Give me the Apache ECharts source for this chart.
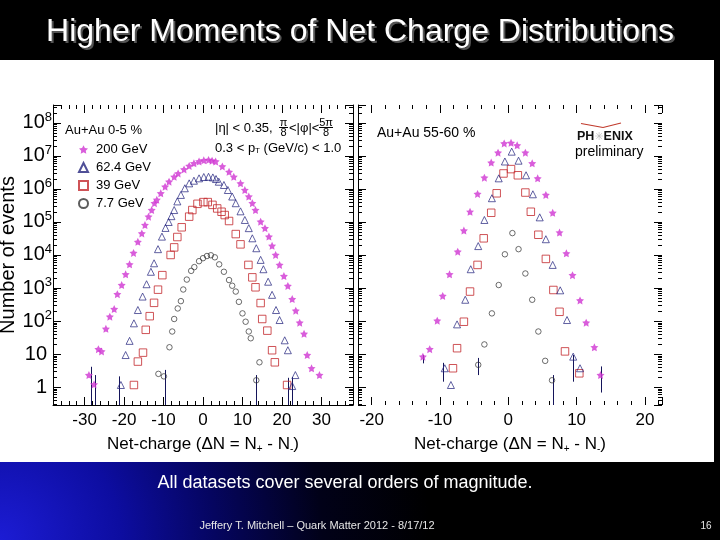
<!DOCTYPE html>
<html>
<head>
<meta charset="utf-8">
<title>Higher Moments of Net Charge Distributions</title>
<script src="https://cdn.jsdelivr.net/npm/echarts@6/dist/echarts.min.js"></script>
<style>
  html, body { margin: 0; padding: 0; background: #000; }
  #stage {
    position: relative; width: 720px; height: 540px; overflow: hidden;
    background: radial-gradient(circle 430px at 0 540px, #1c1cd4 0%, #0d0da0 28%, #050560 50%, #010118 75%, #000 100%);
  }
  #paper { position: absolute; left: 0; top: 60px; width: 714px; height: 402px; background: #fff; }
  #chart { position: absolute; left: 0; top: 0; width: 720px; height: 540px; }
</style>
</head>
<body>
<div id="stage">
  <div id="paper"></div>
  <div id="chart"></div>
</div>
<script>
const FONT = "'Liberation Sans', Arial, Helvetica, sans-serif"

// [net charge, number of events], Au+Au 0-5 %
const central200 = [[-28.9, 2.3], [-27.6, 1.2], [-26.5, 14], [-25.7, 12], [-24.6, 58], [-23.6, 135], [-22.5, 230],
  [-21.7, 650], [-20.6, 1230], [-19.6, 2600], [-18.6, 5200], [-17.6, 11500], [-16.5, 25000], [-15.5, 45000],
  [-14.7, 81000], [-13.8, 145000], [-13.0, 230000], [-12.3, 370000], [-11.7, 470000], [-10.7, 740000],
  [-9.6, 1.17e6], [-8.6, 1.66e6], [-7.3, 2.34e6], [-6.3, 2.95e6], [-4.8, 3.9e6], [-3.5, 5.0e6], [-2.3, 6.0e6],
  [-1.0, 6.8e6], [0.2, 7.4e6], [1.4, 7.6e6], [2.3, 7.2e6], [3.2, 6.8e6], [4.9, 4.8e6], [6.6, 3.3e6], [7.8, 2.34e6],
  [9.5, 1.48e6], [10.6, 9.3e5], [11.6, 5.9e5], [12.5, 3.7e5], [13.3, 2.3e5], [14.6, 1.02e5], [15.7, 65000],
  [16.7, 36000], [17.5, 19000], [18.4, 10000], [19.4, 5000], [20.5, 2300], [21.5, 1150], [22.6, 460], [23.5, 205],
  [24.5, 89], [25.6, 41], [26.4, 9.3], [27.5, 3.7], [29.5, 2.3]]
const central62 = [[-20.8, 1.15], [-19.6, 9.3], [-18.6, 25], [-17.5, 85], [-16.5, 215], [-15.3, 550], [-14.3, 1300],
  [-13.2, 3100], [-12.4, 5600], [-11.4, 15000], [-10.4, 36000], [-9.5, 66000], [-8.7, 100000], [-8.0, 150000],
  [-7.3, 230000], [-6.5, 420000], [-5.6, 660000], [-4.6, 1.05e6], [-3.5, 1.48e6], [-2.3, 1.78e6], [-1.0, 2.1e6],
  [0.2, 2.3e6], [1.4, 2.34e6], [2.5, 2.24e6], [3.3, 2.0e6], [4.0, 1.66e6], [5.3, 1.32e6], [6.3, 9.3e5], [7.4, 5.9e5],
  [8.3, 3.7e5], [9.5, 2.1e5], [10.6, 1.15e5], [11.6, 65000], [12.5, 32000], [13.5, 16000], [14.6, 7100],
  [15.3, 3700], [16.5, 1550], [17.5, 620], [18.5, 215], [19.4, 107], [20.7, 26], [21.5, 13], [22.6, 1.07], [23.4, 2.3]]
const central39 = [[-17.5, 1.15], [-16.5, 5.9], [-15.2, 11], [-14.5, 54], [-13.5, 140], [-12.4, 355], [-11.4, 890],
  [-10.3, 2450], [-8.2, 10000], [-7.3, 17000], [-6.5, 35000], [-5.4, 69000], [-3.5, 145000], [-2.7, 230000],
  [-1.4, 355000], [0.1, 400000], [1.2, 400000], [2.4, 330000], [3.6, 257000], [4.7, 204000], [5.5, 162000],
  [6.6, 107000], [8.3, 43000], [9.5, 21000], [11.5, 5000], [12.5, 2100], [13.3, 1050], [14.6, 350], [15.0, 115],
  [16.3, 51], [17.5, 13], [18.2, 5.6], [21.3, 1.15]]
const central7 = [[-11.3, 2.5], [-9.9, 2.1], [-8.5, 16], [-7.8, 48], [-7.3, 115], [-6.4, 240], [-5.6, 400],
  [-5.0, 900], [-4.1, 1800], [-3.0, 3300], [-2.2, 4300], [-1.0, 6500], [0.0, 8000], [1.0, 9300], [2.0, 9800],
  [3.0, 8500], [4.1, 5200], [5.3, 3100], [6.6, 1740], [7.4, 1170], [8.3, 780], [9.1, 380], [10.0, 170], [10.8, 95],
  [11.6, 48], [12.1, 30], [13.5, 1.6], [14.3, 5.6]]
// [net charge, low, high] of the visible error bars
const centralErr = [[-28.4, 0.1, 4.1], [-27.4, 0.1, 2.3], [-21.3, 0.1, 2.1], [-9.6, 0.1, 3.3], [13.5, 0.1, 2.3],
  [21.6, 0.1, 1.9], [22.6, 0.1, 2.0]]

// Au+Au 55-60 %
const periph200 = [[-12.5, 8.3], [-11.5, 14], [-10.4, 102], [-9.6, 575], [-8.6, 2600], [-7.4, 12600], [-6.5, 55000],
  [-5.6, 204000], [-4.5, 710000], [-3.5, 2.2e6], [-2.5, 6.3e6], [-1.5, 1.26e7], [-0.6, 2.4e7], [0.4, 2.5e7],
  [1.3, 2.1e7], [2.5, 1.26e7], [3.5, 6.0e6], [4.3, 2.1e6], [5.5, 6.6e5], [6.5, 1.9e5], [7.5, 48000], [8.5, 11200],
  [9.4, 2450], [10.5, 420], [11.4, 89], [12.6, 16], [13.5, 2.3]]
const periph62 = [[-9.3, 3.7], [-8.4, 1.15], [-7.5, 79], [-6.3, 440], [-5.5, 3700], [-4.4, 18600], [-3.5, 115000],
  [-2.4, 525000], [-1.4, 2.1e6], [-0.5, 6.8e6], [0.5, 1.35e7], [1.5, 7.2e6], [2.6, 2.6e6], [3.6, 6.9e5],
  [4.6, 1.38e5], [5.5, 30000], [6.5, 5000], [7.6, 850], [8.6, 107], [9.5, 8.3], [10.5, 3.7]]
const periph39 = [[-8.1, 3.7], [-7.5, 15], [-6.5, 95], [-5.6, 780], [-4.5, 5000], [-3.6, 32000], [-2.5, 190000],
  [-1.7, 740000], [-0.7, 2.95e6], [0.4, 4.0e6], [1.4, 2.6e6], [2.5, 7.8e5], [3.3, 2.04e5], [4.4, 41000],
  [5.5, 7600], [6.6, 870], [7.5, 190], [8.3, 12], [10.4, 2.6]]
const periph7 = [[-4.4, 4.7], [-3.5, 19.5], [-2.4, 170], [-1.4, 1230], [-0.5, 10500], [0.6, 46000], [1.5, 15000],
  [2.5, 2750], [3.5, 440], [4.4, 48], [5.4, 6.2], [6.4, 1.6]]
const periphErr = [[-12.5, 5.2, 9.3], [-9.5, 1.45, 5.4], [-4.4, 2.3, 7.6], [6.5, 0.1, 2.3], [9.5, 1.45, 9.3],
  [13.5, 0.68, 4.2]]

const energies = ['200 GeV', '62.4 GeV', '39 GeV', '7.7 GeV']
const Y_RANGE = [0.285, 3.5e8]
const MANTISSAS = [2, 3, 4, 5, 6, 7, 8, 9]
const DECADES = [-1, 0, 1, 2, 3, 4, 5, 6, 7, 8]

const STAR = 'path://M0,-10L2.94,-4.05L9.51,-3.09L4.76,1.55L5.88,8.09L0,5L-5.88,8.09L-4.76,1.55L-9.51,-3.09L-2.94,-4.05Z'
const markers = {
  '200 GeV': { symbol: STAR, symbolSize: 8, itemStyle: { color: '#cf35d2' } },
  '62.4 GeV': { symbol: 'triangle', symbolSize: 7, itemStyle: { color: 'rgba(255,255,255,0)', borderColor: '#23237d', borderWidth: 0.9 } },
  '39 GeV': { symbol: 'rect', symbolSize: 7.5, itemStyle: { color: 'rgba(255,255,255,0)', borderColor: '#c3282d', borderWidth: 1 } },
  '7.7 GeV': { symbol: 'circle', symbolSize: 5.5, itemStyle: { color: 'rgba(255,255,255,0)', borderColor: '#333', borderWidth: 0.9 } }
}

const chart = echarts.init(document.getElementById('chart'))

// x axes of one panel: labelled bottom axis plus minor / top tick-only copies
function netChargeAxes(grid, min, max, split, withLine) {
  const base = { gridIndex: grid, type: 'value', min: min, max: max, splitLine: { show: false } }
  const noLine = { show: false, onZero: false }
  return [
    Object.assign({}, base, {
      position: 'bottom', splitNumber: split, minInterval: 10, maxInterval: 10,
      axisLine: { show: withLine, onZero: false, lineStyle: { color: '#000', width: 1 } },
      axisTick: { inside: true, length: 8, lineStyle: { color: '#000' } },
      axisLabel: { margin: 7, color: '#000', fontFamily: FONT, fontSize: 17, formatter: (v) => (v % 10 === 0 ? String(v) : '') },
      name: 'Net-charge (ΔN = N{s|+} - N{s|-})', nameLocation: 'middle', nameGap: 24,
      nameTextStyle: {
        color: '#000', fontFamily: FONT, fontSize: 17, lineHeight: 20,
        rich: { s: { fontSize: 10, lineHeight: 10, verticalAlign: 'bottom', fontFamily: FONT, color: '#000' } }
      }
    }),
    Object.assign({}, base, {
      position: 'bottom', interval: 2, axisLine: noLine,
      axisTick: { inside: true, length: 4, lineStyle: { color: '#000' } }, axisLabel: { show: false }
    }),
    Object.assign({}, base, {
      position: 'top', splitNumber: split, minInterval: 10, maxInterval: 10, axisLine: noLine,
      axisTick: { inside: true, length: 8, lineStyle: { color: '#000' } }, axisLabel: { show: false }
    }),
    Object.assign({}, base, {
      position: 'top', interval: 2, axisLine: noLine,
      axisTick: { inside: true, length: 4, lineStyle: { color: '#000' } }, axisLabel: { show: false }
    })
  ]
}

function eventAxis(grid, position, withLine, extra) {
  return Object.assign({
    gridIndex: grid, type: 'log', logBase: 10, position: position, min: Y_RANGE[0], max: Y_RANGE[1], splitNumber: 9,
    axisLine: { show: withLine, onZero: false, lineStyle: { color: '#000', width: 1 } },
    axisTick: { inside: true, length: 8, lineStyle: { color: '#000' } },
    axisLabel: { show: false },
    splitLine: { show: false }
  }, extra || {})
}

function powerLabel(v) {
  const lg = Math.log10(v)
  const e = Math.round(lg)
  if (Math.abs(lg - e) > 1e-6) return ''
  if (e === 0) return '{c|1}'
  if (e === 1) return '{c|10}'
  return '{b|10}{s|' + e + '}'
}

const yMinorTicks = []
DECADES.forEach((d) => MANTISSAS.forEach((m) => yMinorTicks.push([0, m * Math.pow(10, d)])))

function minorTickItem(params, api) {
  const cs = params.coordSys
  const v = api.value(1)
  if (v < Y_RANGE[0] || v > Y_RANGE[1]) return null
  const y = Math.round(api.coord([0, v])[1]) + 0.5
  return {
    type: 'group',
    children: [
      { type: 'line', shape: { x1: cs.x, y1: y, x2: cs.x + 4, y2: y }, style: { stroke: '#000', lineWidth: 1 } },
      { type: 'line', shape: { x1: cs.x + cs.width - 4, y1: y, x2: cs.x + cs.width, y2: y }, style: { stroke: '#000', lineWidth: 1 } }
    ]
  }
}

function errorBarItem(params, api) {
  const cs = params.coordSys
  const x = api.value(0)
  const top = api.coord([x, api.value(2)])
  const bottom = api.coord([x, api.value(1)])
  const px = Math.round(top[0]) + 0.5
  return {
    type: 'line',
    shape: { x1: px, y1: top[1], x2: px, y2: Math.min(bottom[1], cs.y + cs.height) },
    style: { stroke: '#14145a', lineWidth: 1 }
  }
}

function panelSeries(xIndex, yIndex, sets, errors, minors) {
  const list = energies.map((name, i) => Object.assign({
    name: name, type: 'scatter', xAxisIndex: xIndex, yAxisIndex: yIndex, data: sets[i], z: 5 - i
  }, markers[name]))
  list.push({ type: 'custom', xAxisIndex: xIndex, yAxisIndex: yIndex, data: errors, renderItem: errorBarItem, encode: { x: 0, y: [1, 2] }, silent: true, z: 1 })
  list.push({ type: 'custom', xAxisIndex: xIndex, yAxisIndex: yIndex, data: minors, renderItem: minorTickItem, encode: { x: 0, y: 1 }, silent: true, z: 1 })
  return list
}

function txt(x, y, text, size, extra) {
  return {
    type: 'text', x: x, y: y, silent: true,
    style: Object.assign({ text: text, fill: '#000', font: size + 'px ' + FONT, align: 'left', verticalAlign: 'middle' }, extra || {})
  }
}

const option = {
  backgroundColor: 'transparent',
  animation: false,
  grid: [
    { left: 53, top: 105, width: 300, height: 300, outerBoundsMode: 'none' },
    { left: 358, top: 105, width: 304, height: 300, outerBoundsMode: 'none' }
  ],
  xAxis: netChargeAxes(0, -38, 38, 8, true).concat(netChargeAxes(1, -22, 22.5, 5, false)),
  yAxis: [
    eventAxis(0, 'left', true, {
      axisLabel: {
        show: true, margin: 1, color: '#000', fontFamily: FONT, fontSize: 20, formatter: powerLabel,
        rich: {
          b: { fontSize: 20, lineHeight: 24, fontFamily: FONT, color: '#000' },
          c: { fontSize: 20, lineHeight: 24, fontFamily: FONT, color: '#000', padding: [0, 5, 0, 0] },
          s: { fontSize: 13, lineHeight: 12, verticalAlign: 'top', fontFamily: FONT, color: '#000' }
        }
      },
      name: 'Number of events', nameLocation: 'middle', nameGap: 32, nameRotate: 90,
      nameTextStyle: { color: '#000', fontFamily: FONT, fontSize: 20 }
    }),
    eventAxis(0, 'right', true),
    eventAxis(1, 'left', true),
    eventAxis(1, 'right', false)
  ],
  legend: {
    data: energies, orient: 'vertical', left: 78, top: 143, itemWidth: 9, itemHeight: 9, itemGap: 5, padding: 0,
    selectedMode: false,
    textStyle: { color: '#000', fontFamily: FONT, fontSize: 13, padding: [0, 0, 0, 3] }
  },
  series: panelSeries(0, 0, [central200, central62, central39, central7], centralErr, yMinorTicks)
    .concat(panelSeries(4, 2, [periph200, periph62, periph39, periph7], periphErr, yMinorTicks)),
  graphic: [
    txt(362, 34, 'Higher Moments of Net Charge Distributions', 32, { fill: '#555', align: 'center' }),
    txt(360, 32, 'Higher Moments of Net Charge Distributions', 32, { fill: '#fff', align: 'center' }),
    txt(65, 130, 'Au+Au 0-5 %', 13),
    txt(215, 128, '|η| < 0.35,', 13),
    txt(283.5, 122.5, 'π', 11, { align: 'center' }),
    { type: 'line', silent: true, shape: { x1: 279, y1: 127.5, x2: 288, y2: 127.5 }, style: { stroke: '#000', lineWidth: 1 } },
    txt(283.5, 133, '8', 11, { align: 'center' }),
    txt(289, 128, '<|φ|<', 13),
    txt(326, 122.5, '5π', 11, { align: 'center' }),
    { type: 'line', silent: true, shape: { x1: 319, y1: 127.5, x2: 333, y2: 127.5 }, style: { stroke: '#000', lineWidth: 1 } },
    txt(326, 133, '8', 11, { align: 'center' }),
    txt(215, 148, '0.3 < p{s|T} (GeV/c) < 1.0', 13, {
      rich: { s: { fontSize: 8, lineHeight: 8, verticalAlign: 'bottom', fontFamily: FONT, fill: '#000' } }
    }),
    txt(377, 133, 'Au+Au 55-60 %', 14),
    { type: 'line', silent: true, shape: { x1: 581, y1: 123.5, x2: 603, y2: 127.5 }, style: { stroke: '#c0392b', lineWidth: 1.2 } },
    { type: 'line', silent: true, shape: { x1: 603, y1: 127.5, x2: 621, y2: 123 }, style: { stroke: '#c0392b', lineWidth: 1.2 } },
    txt(577, 137, '{a|PH}{g|✳}{a|ENIX}', 12, {
      rich: {
        a: { fontSize: 12.5, fontWeight: 'bold', fontFamily: FONT, fill: '#111' },
        g: { fontSize: 11, fontFamily: "'DejaVu Sans', sans-serif", fill: '#bbb' }
      }
    }),
    txt(575, 152, 'preliminary', 14),
    txt(345, 483, 'All datasets cover several orders of magnitude.', 18, { fill: '#fff', align: 'center' }),
    txt(317, 526, 'Jeffery T. Mitchell – Quark Matter 2012 - 8/17/12', 11, { fill: '#e6e6e6', align: 'center' }),
    txt(706, 526, '16', 10, { fill: '#e6e6e6', align: 'center' })
  ]
}

chart.setOption(option)
</script>
</body>
</html>
